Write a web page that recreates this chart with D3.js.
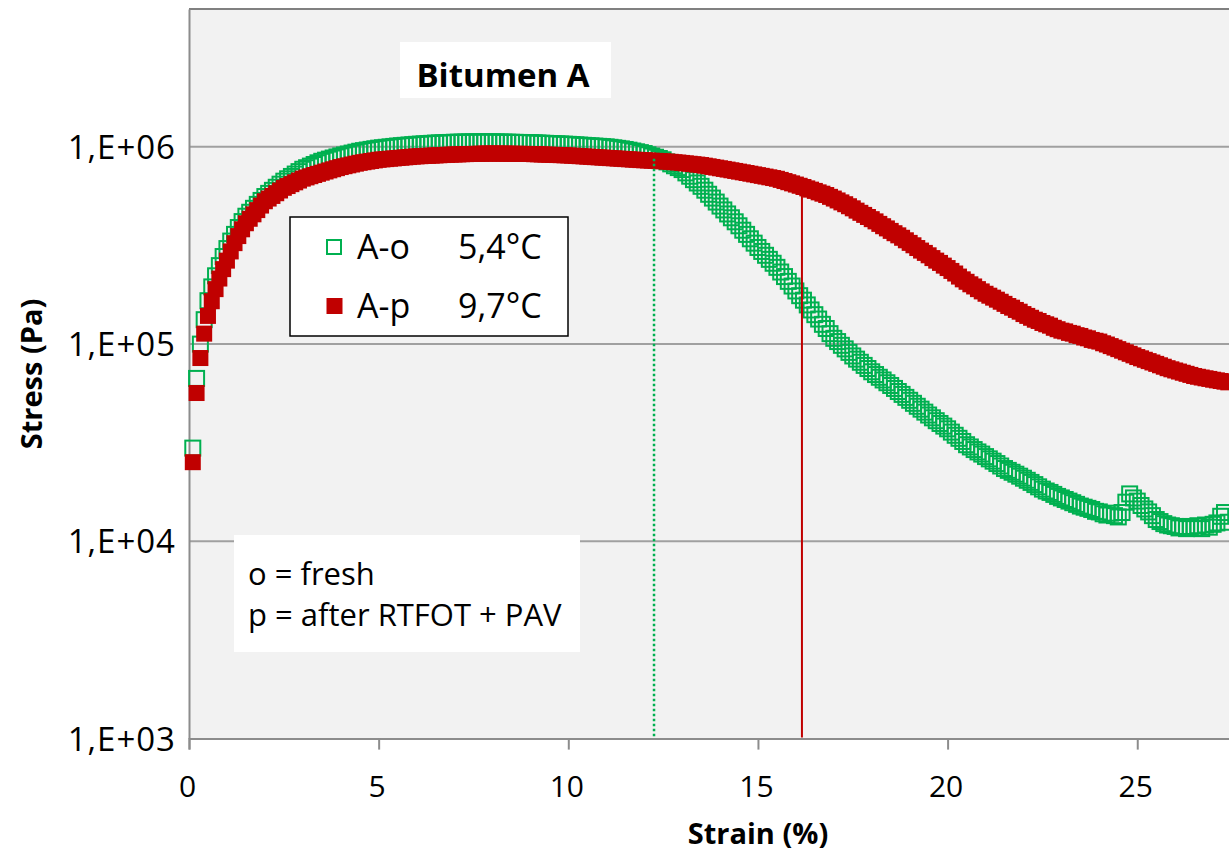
<!DOCTYPE html>
<html><head><meta charset="utf-8">
<script src="https://cdn.jsdelivr.net/npm/d3@7"></script>
<style>body{margin:0;background:#fff} svg{display:block} text{font-family:"Open Sans",sans-serif}</style>
</head><body><svg id="c" width="1229" height="853"></svg>
<script>
const strain = [
0.1,0.2,0.3,0.4,0.5,0.6,0.7,0.8,0.9,1.0,
1.1,1.2,1.3,1.4,1.5,1.6,1.7,1.8,1.9,2.0,
2.1,2.2,2.3,2.4,2.5,2.6,2.7,2.8,2.9,3.0,
3.1,3.2,3.3,3.4,3.5,3.6,3.7,3.8,3.9,4.0,
4.1,4.2,4.3,4.4,4.5,4.6,4.7,4.8,4.9,5.0,
5.1,5.2,5.3,5.4,5.5,5.6,5.7,5.8,5.9,6.0,
6.1,6.2,6.3,6.4,6.5,6.6,6.7,6.8,6.9,7.0,
7.1,7.2,7.3,7.4,7.5,7.6,7.7,7.8,7.9,8.0,
8.1,8.2,8.3,8.4,8.5,8.6,8.7,8.8,8.9,9.0,
9.1,9.2,9.3,9.4,9.5,9.6,9.7,9.8,9.9,10.0,
10.1,10.2,10.3,10.4,10.5,10.6,10.7,10.8,10.9,11.0,
11.1,11.2,11.3,11.4,11.5,11.6,11.7,11.8,11.9,12.0,
12.1,12.2,12.3,12.4,12.5,12.6,12.7,12.8,12.9,13.0,
13.1,13.2,13.3,13.4,13.5,13.6,13.7,13.8,13.9,14.0,
14.1,14.2,14.3,14.4,14.5,14.6,14.7,14.8,14.9,15.0,
15.1,15.2,15.3,15.4,15.5,15.6,15.7,15.8,15.9,16.0,
16.1,16.2,16.3,16.4,16.5,16.6,16.7,16.8,16.9,17.0,
17.1,17.2,17.3,17.4,17.5,17.6,17.7,17.8,17.9,18.0,
18.1,18.2,18.3,18.4,18.5,18.6,18.7,18.8,18.9,19.0,
19.1,19.2,19.3,19.4,19.5,19.6,19.7,19.8,19.9,20.0,
20.1,20.2,20.3,20.4,20.5,20.6,20.7,20.8,20.9,21.0,
21.1,21.2,21.3,21.4,21.5,21.6,21.7,21.8,21.9,22.0,
22.1,22.2,22.3,22.4,22.5,22.6,22.7,22.8,22.9,23.0,
23.1,23.2,23.3,23.4,23.5,23.6,23.7,23.8,23.9,24.0,
24.1,24.2,24.3,24.4,24.5,24.6,24.7,24.8,24.9,25.0,
25.1,25.2,25.3,25.4,25.5,25.6,25.7,25.8,25.9,26.0,
26.1,26.2,26.3,26.4,26.5,26.6,26.7,26.8,26.9,27.0,
27.1,27.2,27.3,27.4];

const stressFresh = [
29700,67000,100000,133000,166000,195000,222000,250000,278000,305000,
333000,360000,390000,418000,445000,466000,488000,511000,535000,560000,
581000,602000,624000,647000,670000,689000,708000,728000,749000,770000,
784000,799000,814000,830000,845000,856000,867000,878000,889000,900000,
910000,920000,930000,940000,950000,957000,964000,971000,978000,985000,
990000,995000,1000000,1005000,1010000,1014000,1018000,1022000,1026000,1030000,
1033000,1036000,1039000,1042000,1045000,1047000,1049000,1051000,1053000,1055000,
1056000,1057000,1058000,1059000,1060000,1060000,1060000,1060000,1060000,1060000,
1059000,1058000,1057000,1056000,1055000,1054000,1053000,1052000,1051000,1050000,
1048000,1046000,1044000,1042000,1040000,1038000,1036000,1034000,1032000,1030000,
1027000,1024000,1021000,1018000,1015000,1012000,1009000,1006000,1003000,1000000,
995000,989000,983000,977000,970000,962000,953000,944000,935000,925000,
912000,899000,886000,873000,860000,839000,820000,802000,785000,767000,
738000,710000,682000,656000,631000,603000,575000,550000,525000,501000,
479000,457000,437000,417000,398000,378000,360000,342000,325000,309000,
295000,282000,269000,257000,245000,232000,220000,208000,197000,186000,
176000,167000,158000,149000,141000,134000,126000,120000,113000,107000,
103000,98600,94600,90800,87100,83900,80900,78000,75200,72400,
70100,67900,65800,63700,61700,59600,57500,55600,53700,51900,
50100,48400,46800,45200,43700,42300,40900,39600,38400,37200,
35800,34500,33300,32100,30900,30100,29200,28400,27700,26900,
26200,25500,24800,24100,23400,22900,22400,21900,21400,20900,
20400,19900,19400,18900,18400,18000,17700,17300,16900,16600,
16300,16000,15700,15400,15100,14900,14700,14500,14200,14100,
13800,13600,13900,13500,13300,14000,15800,17400,16600,16000,
15200,14600,14100,13500,12900,12600,12300,12100,12000,11900,
11700,11800,11600,11900,11700,12000,11600,12100,11800,12200,
12400,13400,14000,12500];

const stressAged = [
25200,56500,85000,113000,139000,165000,190000,215000,240000,265000,
295000,325000,353000,382000,410000,432000,455000,478000,504000,530000,
547000,564000,582000,601000,620000,633000,647000,661000,675000,690000,
700000,710000,720000,730000,740000,750000,760000,770000,780000,790000,
798000,806000,814000,822000,830000,836000,842000,848000,854000,860000,
864000,867000,871000,874000,878000,881000,885000,888000,892000,895000,
897000,899000,901000,903000,905000,907000,909000,911000,913000,915000,
916000,918000,919000,920000,921000,922000,923000,924000,925000,925000,
925000,924000,924000,923000,923000,922000,922000,921000,921000,920000,
918000,917000,915000,914000,912000,911000,909000,908000,906000,905000,
902000,900000,897000,895000,892000,890000,887000,885000,882000,880000,
877000,875000,872000,870000,867000,865000,862000,860000,857000,855000,
853000,851000,849000,847000,845000,842000,840000,836000,833000,829000,
825000,821000,817000,813000,809000,803000,797000,791000,785000,779000,
773000,767000,761000,755000,749000,743000,737000,731000,725000,719000,
713000,707000,701000,695000,689000,680000,671000,662000,653000,644000,
635000,626000,616000,607000,598000,588000,579000,570000,558000,547000,
535000,523000,512000,500000,488000,475000,463000,452000,441000,430000,
419000,407000,396000,386000,375000,365000,356000,346000,336000,326000,
317000,307000,298000,290000,282000,273000,265000,258000,250000,243000,
235000,228000,220000,213000,207000,201000,196000,190000,185000,180000,
176000,172000,168000,164000,160000,156000,153000,149000,146000,142000,
139000,136000,133000,131000,128000,126000,124000,121000,119000,117000,
116000,114000,113000,111000,110000,108000,107000,105000,104000,103000,
101000,99500,97700,96000,94300,92600,90900,89300,87700,86000,
84700,83300,82000,80700,79400,78100,76800,75500,74500,73500,
72600,71600,70700,69800,68900,68300,67700,67100,66600,66000,
65500,65000,64500,64000];

const seriesNames = ["A-o", "A-p"];
const seriesTemps = ["5,4°C", "9,7°C"];
const seriesColors = ["#00b050", "#c00000"];
const limitStrain = [12.26, 16.16];
const limitStress = [870000, 580000];
const xTicks = [0, 5, 10, 15, 20, 25];
const yTicks = [1e3, 1e4, 1e5, 1e6];
const notes = ["o = fresh", "p = after RTFOT + PAV"];
const chartTitle = "Bitumen A";
const xTitle = "Strain (%)";
const yTitle = "Stress (Pa)";

const W = 1229, H = 853;
const plotLeft = 189, plotBottom = 738.6, plotTop = 9;
const svg = d3.select("#c");
svg.append("rect").attr("width", W).attr("height", H).attr("fill", "#fff");

const x = d3.scaleLinear().domain([0, 30]).range([plotLeft, plotLeft + 30 * 37.93]);
const y = d3.scaleLog().domain([1e3, 5e6]).range([plotBottom, plotTop]);

// plot area
svg.append("rect").attr("x", plotLeft).attr("y", plotTop).attr("width", W - plotLeft).attr("height", plotBottom - plotTop).attr("fill", "#f2f2f2");
svg.append("line").attr("x1", plotLeft).attr("x2", W).attr("y1", plotTop).attr("y2", plotTop).attr("stroke", "#808080").attr("stroke-width", 2);

// gridlines
svg.append("g").selectAll("line").data(yTicks.slice(1)).join("line")
  .attr("x1", plotLeft).attr("x2", W).attr("y1", d => y(d)).attr("y2", d => y(d))
  .attr("stroke", "#a0a0a0").attr("stroke-width", 2);

// x axis
const gx = svg.append("g").attr("transform", `translate(0,${plotBottom})`)
  .call(d3.axisBottom(x).tickValues(xTicks).tickSize(11).tickFormat(d3.format("d")));
gx.select(".domain").attr("stroke", "#8c8c8c").attr("stroke-width", 2);
gx.selectAll(".tick line").attr("stroke", "#8c8c8c").attr("stroke-width", 2);
gx.selectAll("text").attr("y", 797 - plotBottom).attr("dy", "0").attr("dx", -2)
  .attr("fill", "#000").style("font-size", "30px").style("font-family", '"Open Sans",sans-serif');

// y axis
const gy = svg.append("g").attr("transform", `translate(${plotLeft},0)`)
  .call(d3.axisLeft(y).tickValues(yTicks).tickSize(0).tickPadding(13)
    .tickFormat(d => "1,E+0" + Math.round(Math.log10(d))));
gy.select(".domain").attr("stroke", "#8c8c8c").attr("stroke-width", 2);
gy.selectAll("text").attr("dy", "0.35em").attr("fill", "#000")
  .style("font-size", "33px").style("letter-spacing", "1px").style("font-family", '"Open Sans",sans-serif');

// markers: fresh (hollow green) then aged (filled red)
const ms = 15;
svg.append("g").selectAll("rect").data(strain.map((s, i) => [s, stressFresh[i]])).join("rect")
  .attr("x", d => x(d[0]) - ms / 2).attr("y", d => y(d[1]) - ms / 2)
  .attr("width", ms).attr("height", ms)
  .attr("fill", "none").attr("stroke", seriesColors[0]).attr("stroke-width", 2);
svg.append("g").selectAll("rect").data(strain.map((s, i) => [s, stressAged[i]])).join("rect")
  .attr("x", d => x(d[0]) - (ms + 1) / 2).attr("y", d => y(d[1]) - (ms + 1) / 2)
  .attr("width", ms + 1).attr("height", ms + 1)
  .attr("fill", seriesColors[1]);

// limit lines
svg.append("line").attr("x1", x(limitStrain[0])).attr("x2", x(limitStrain[0]))
  .attr("y1", y(limitStress[0])).attr("y2", plotBottom - 1)
  .attr("stroke", seriesColors[0]).attr("stroke-width", 2.5).attr("stroke-dasharray", "2.5,2.5");
svg.append("line").attr("x1", x(limitStrain[1])).attr("x2", x(limitStrain[1]))
  .attr("y1", y(limitStress[1])).attr("y2", plotBottom - 1)
  .attr("stroke", seriesColors[1]).attr("stroke-width", 2);

// title box
svg.append("rect").attr("x", 400).attr("y", 42).attr("width", 211).attr("height", 56).attr("fill", "#fff");
svg.append("text").attr("x", 503).attr("y", 87).attr("text-anchor", "middle")
  .style("font-size", "33px").style("font-weight", "bold").text(chartTitle);

// legend
const lg = svg.append("g");
lg.append("rect").attr("x", 290).attr("y", 217).attr("width", 278).attr("height", 119)
  .attr("fill", "#fff").attr("stroke", "#000").attr("stroke-width", 1.5);
const rowsY = [247, 306];
seriesNames.forEach((n, i) => {
  if (i === 0) {
    lg.append("rect").attr("x", 334 - 7).attr("y", rowsY[i] - 7).attr("width", 14).attr("height", 14)
      .attr("fill", "none").attr("stroke", seriesColors[i]).attr("stroke-width", 2);
  } else {
    lg.append("rect").attr("x", 334.5 - 8).attr("y", rowsY[i] - 8).attr("width", 16).attr("height", 16)
      .attr("fill", seriesColors[i]);
  }
  lg.append("text").attr("x", 357).attr("y", rowsY[i] + 12).style("font-size", "34px").text(n);
  lg.append("text").attr("x", 458).attr("y", rowsY[i] + 12).style("font-size", "34px").text(seriesTemps[i]);
});

// notes box
svg.append("rect").attr("x", 234).attr("y", 535).attr("width", 346).attr("height", 117).attr("fill", "#fff");
notes.forEach((t, i) => {
  svg.append("text").attr("x", 248).attr("y", 585 + i * 41).style("font-size", "31px").text(t);
});

// axis titles
svg.append("text").attr("x", 758).attr("y", 844).attr("text-anchor", "middle")
  .style("font-size", "29px").style("font-weight", "bold").text(xTitle);
svg.append("text").attr("transform", "translate(42,374) rotate(-90)").attr("text-anchor", "middle")
  .style("font-size", "29px").style("font-weight", "bold").text(yTitle);
</script>
</body></html>
